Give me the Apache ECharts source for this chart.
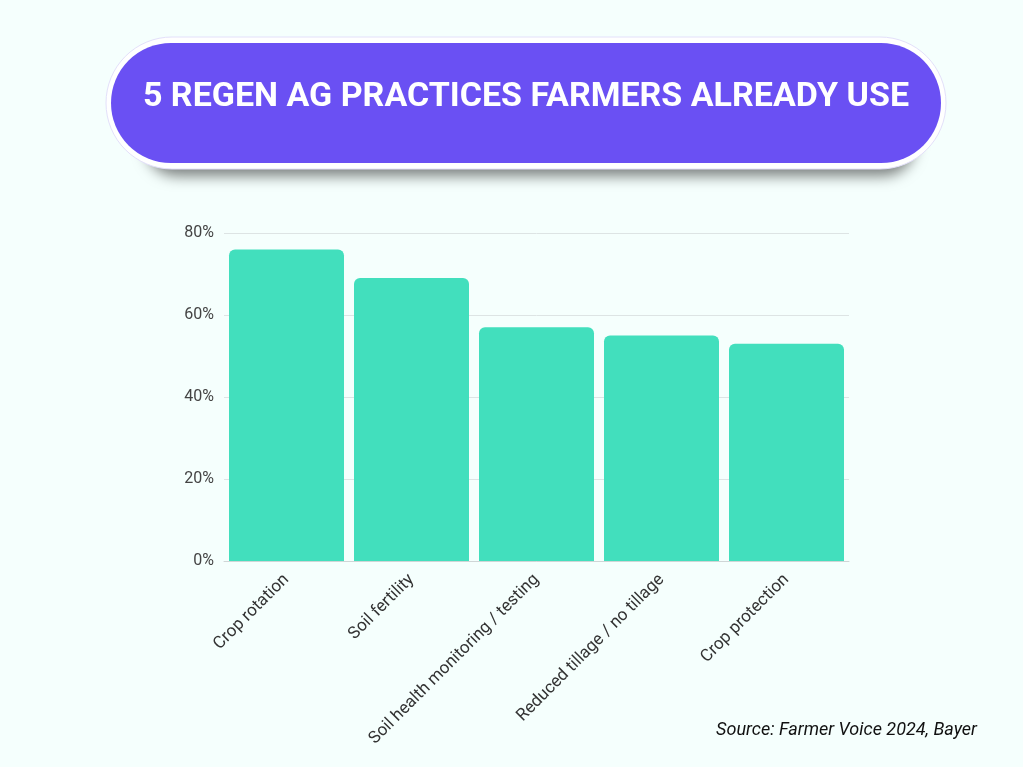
<!DOCTYPE html>
<html>
<head>
<meta charset="utf-8">
<script src="https://cdn.jsdelivr.net/npm/echarts@6/dist/echarts.min.js"></script>
<style>
  html, body { margin: 0; padding: 0; background: #f5fffd; }
  #chart { width: 1023px; height: 767px; }
</style>
</head>
<body>
<div id="chart"></div>
<script>
const categories = ["Crop rotation", "Soil fertility", "Soil health monitoring / testing", "Reduced tillage / no tillage", "Crop protection"];
const shares = [76, 69, 57, 55, 53];
const yTicks = [0, 20, 40, 60, 80];

const chart = echarts.init(document.getElementById("chart"));

const option = {
  backgroundColor: "#f5fffd",
  graphic: [
    {
      // soft shadow under the title pill
      type: "rect",
      shape: { x: 145, y: 100, width: 770, height: 64, r: 32 },
      style: { fill: "#7f8a8a", shadowBlur: 14, shadowOffsetY: 12, shadowColor: "rgba(0,0,0,0.5)" },
      z: 0
    },
    {
      type: "rect",
      shape: { x: 106, y: 37, width: 840, height: 132, r: 66 },
      style: { fill: "#ffffff", stroke: "#e3e0fa", lineWidth: 1 },
      z: 1
    },
    {
      type: "rect",
      shape: { x: 111, y: 43, width: 830, height: 120, r: 60 },
      style: { fill: "#6a50f3" },
      z: 2
    },
    {
      type: "text",
      x: 526,
      y: 97,
      style: {
        text: "5 REGEN AG PRACTICES FARMERS ALREADY USE",
        fill: "#ffffff",
        align: "center",
        verticalAlign: "middle",
        font: "bold 34px Roboto, sans-serif"
      },
      z: 3
    },
    {
      type: "text",
      right: 46,
      top: 721,
      style: {
        text: "Source: Farmer Voice 2024, Bayer",
        fill: "#111111",
        font: "italic 18px Roboto, sans-serif"
      },
      z: 3
    }
  ],
  grid: { left: 224, right: 174, top: 233, bottom: 206, containLabel: false },
  xAxis: {
    type: "category",
    data: categories,
    axisTick: { show: false },
    axisLine: { lineStyle: { color: "#cfd6d6", width: 1 } },
    axisLabel: {
      rotate: 45,
      interval: 0,
      margin: 16,
      color: "#333333",
      fontSize: 17,
      fontFamily: "Roboto, sans-serif"
    }
  },
  yAxis: {
    type: "value",
    min: yTicks[0],
    max: yTicks[yTicks.length - 1],
    interval: 20,
    axisLine: { show: false },
    axisTick: { show: false },
    splitLine: { lineStyle: { color: "#dde4e4", width: 1 } },
    axisLabel: {
      margin: 10,
      color: "#444444",
      fontSize: 16,
      fontFamily: "Roboto, sans-serif",
      formatter: "{value}%"
    }
  },
  series: [
    {
      type: "bar",
      data: shares,
      barCategoryGap: "8%",
      itemStyle: { color: "#42dfbd", borderRadius: [6, 6, 0, 0] }
    }
  ]
};

chart.setOption(option);
</script>
</body>
</html>
